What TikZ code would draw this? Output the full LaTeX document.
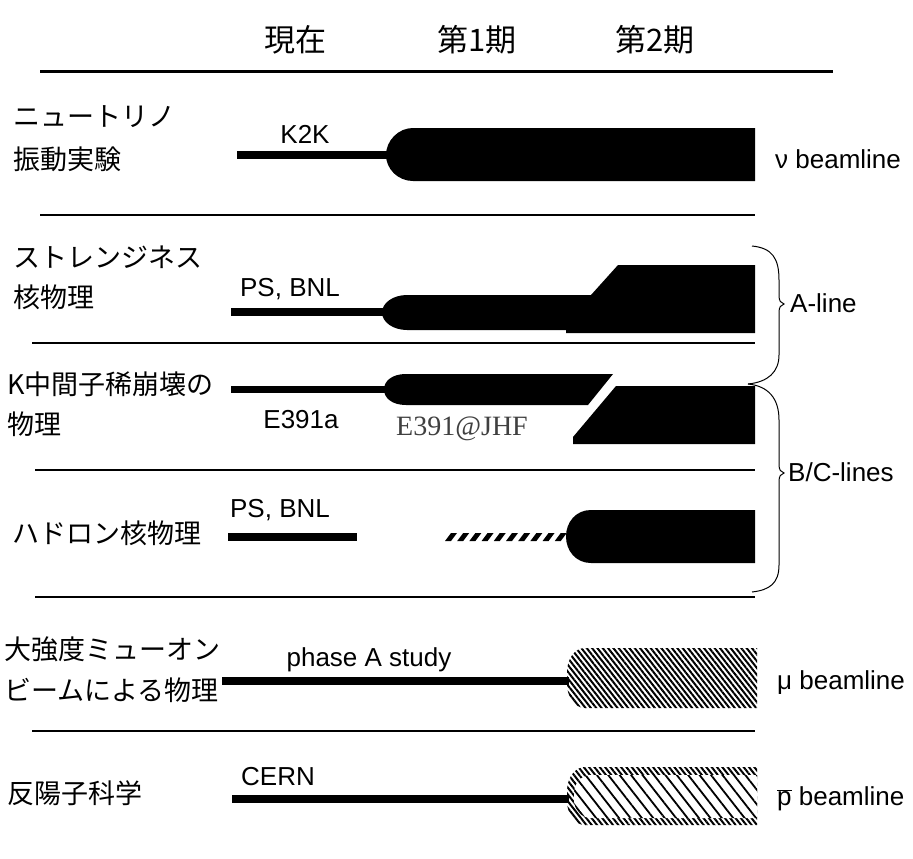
\documentclass[tikz,border=0pt]{standalone}
\usepackage{fontspec}
\setmainfont{Liberation Sans}
\newfontfamily\jpfont{Noto Sans CJK JP}
\newfontfamily\serfont{Liberation Serif}
\usetikzlibrary{patterns.meta}
\begin{document}
\begin{tikzpicture}[x=1pt,y=-1pt,
  jp/.style={font=\jpfont\fontsize{27}{30}\selectfont, inner sep=0pt, anchor=west},
  hd/.style={font=\jpfont\fontsize{31}{34}\selectfont, inner sep=0pt},
  lab/.style={font=\fontsize{26}{28}\selectfont, inner sep=0pt},
  rlab/.style={font=\fontsize{26}{28}\selectfont, inner sep=0pt, anchor=west},
  barline/.style={line width=7.5pt},
  sepline/.style={line width=1.4pt},
  brace/.style={line width=1pt},
  dense/.style={pattern={Lines[angle=-52,distance=4.2pt,line width=2pt]}},
  sparse/.style={pattern={Lines[angle=-52,distance=9pt,line width=1.8pt]}}]
\useasboundingbox (0,0) rectangle (913,859);
\fill[white] (0,0) rectangle (913,859);

% header
\node[hd] (h0) at (295,40) {現在};
\node[hd] (h1) at (477,40) {第1期};
\node[hd] (h2) at (655,40) {第2期};
\draw[line width=3pt] (40,72) -- (833,72);

% separators
\draw[sepline] (40,215) -- (755,215);
\draw[sepline] (32,343) -- (755,343);
\draw[sepline] (35,470) -- (755,470);
\draw[sepline] (35,597) -- (755,597);
\draw[sepline] (32,731) -- (755,731);

% left labels
\node[jp] (l1a) at (13,117) {ニュートリノ};
\node[jp] (l1b) at (13,159) {振動実験};
\node[jp] (l2a) at (13,257) {ストレンジネス};
\node[jp] (l2b) at (13,297) {核物理};
\node[jp] (l3a) at (7,384) {K中間子稀崩壊の};
\node[jp] (l3b) at (7,424) {物理};
\node[jp] (l4) at (12,533) {ハドロン核物理};
\node[jp] (l5a) at (4,649) {大強度ミューオン};
\node[jp] (l5b) at (4,690) {ビームによる物理};
\node[jp] (l6) at (7,793) {反陽子科学};

% row 1 : neutrino
\draw[barline] (237,155) -- (390,155);
\fill (413,128) -- (755,128) -- (755,181) -- (413,181)
  .. controls (398,181) and (386,169) .. (386,155)
  .. controls (386,141) and (398,128) .. (413,128) -- cycle;
\node[lab] (k2k) at (305,134) {K2K};
\node[rlab] (r1) at (775,159) {ν beamline};

% row 2 : strangeness
\draw[barline] (231,312) -- (386,312);
\fill (407,295) -- (591,295) -- (618,265) -- (755,265) -- (755,333)
  -- (566,333) -- (566,330) -- (407,330)
  .. controls (393,330) and (382,322) .. (382,312.5)
  .. controls (382,303) and (393,295) .. (407,295) -- cycle;
\node[lab] (ps2) at (290,289) {PS, BNL};

% row 3 : K decays
\draw[barline] (231,389.5) -- (388,389.5);
\fill (406,374) -- (613,374) -- (588,405) -- (406,405)
  .. controls (392,405) and (384,398) .. (384,389.5)
  .. controls (384,381) and (392,374) .. (406,374) -- cycle;
\fill (616,386) -- (755,386) -- (755,444) -- (573,444) -- (573,437) -- cycle;
\node[lab] (e391a) at (301,420) {E391a};
\node[font=\serfont\fontsize{28}{30}\selectfont, text=black!75, inner sep=0pt] (e391j) at (462,429) {E391@JHF};

% row 4 : hadron
\draw[barline] (228,537) -- (357,537);
\foreach \i in {0,...,9}{
  \fill ({445+12.2*\i},541) -- ({451+12.2*\i},541) -- ({457+12.2*\i},533) -- ({451+12.2*\i},533) -- cycle;
}
\fill (591,510) -- (755,510) -- (755,563) -- (591,563)
  .. controls (576,563) and (566,551) .. (566,536.5)
  .. controls (566,522) and (576,510) .. (591,510) -- cycle;
\node[lab] (ps4) at (280,510) {PS, BNL};

% braces
\draw[brace] (752,246) .. controls (772,248) and (779,258) .. (779,280) -- (779,296)
  .. controls (779,301) and (781,303) .. (784,304)
  .. controls (781,305) and (779,307) .. (779,312) -- (779,355)
  .. controls (779,372) and (768,382) .. (748,384);
\draw[brace] (748,384) .. controls (768,386) and (779,398) .. (779,420) -- (779,465)
  .. controls (779,470) and (781,472) .. (784,473)
  .. controls (781,474) and (779,476) .. (779,481) -- (779,565)
  .. controls (779,583) and (770,590) .. (752,592);
\node[rlab] (ra) at (790,303) {A-line};
\node[rlab] (rbc) at (788,472) {B/C-lines};

% row 5 : muon
\draw[barline,line width=8pt] (222,681) -- (569,681);
\path[dense] (585,648) -- (757,648) -- (757,708) -- (585,708)
  .. controls (574,708) and (567,696) .. (567,684) -- (567,672)
  .. controls (567,660) and (574,648) .. (585,648) -- cycle;
\node[lab] (pha) at (369,660) {phase A study};
\node[rlab] (r5) at (777,683) {μ beamline};

% row 6 : antiproton
\draw[barline,line width=8pt] (232,799) -- (569,799);
\path[dense] (585,767) -- (757,767) -- (757,825) -- (585,825)
  .. controls (574,825) and (567,813) .. (567,801) -- (567,791)
  .. controls (567,779) and (574,767) .. (585,767) -- cycle;
\fill[white] (591,775) -- (757,775) -- (757,818) -- (591,818)
  .. controls (581,818) and (574,809) .. (574,800) -- (574,793)
  .. controls (574,784) and (581,775) .. (591,775) -- cycle;
\path[sparse] (591,775) -- (757,775) -- (757,818) -- (591,818)
  .. controls (581,818) and (574,809) .. (574,800) -- (574,793)
  .. controls (574,784) and (581,775) .. (591,775) -- cycle;
\node[lab] (cern) at (278,777) {CERN};
\node[rlab] (r6) at (777,799) {$\overline{\mbox{p}}$ beamline};
\end{tikzpicture}
\end{document}
